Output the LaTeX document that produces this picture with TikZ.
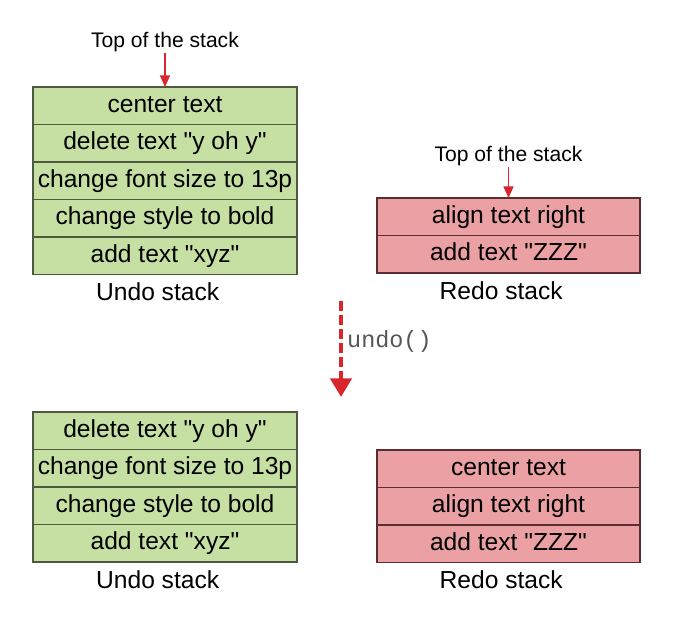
\documentclass[tikz,border=0pt]{standalone}
\usepackage{fontspec}
\setmainfont{Liberation Sans}[Ligatures=TeXOff]
\setmonofont{Liberation Mono}
\usetikzlibrary{arrows.meta,positioning}
\definecolor{undofill}{HTML}{C6E0A4}
\definecolor{undoline}{HTML}{4E5A40}
\definecolor{redofill}{HTML}{EBA0A3}
\definecolor{redoline}{HTML}{5A2E30}
\definecolor{pointerred}{HTML}{D7262C}
\definecolor{callgray}{HTML}{555555}

\begin{document}
\begin{tikzpicture}[
  x=0.03cm,
  y=-0.03cm,
  every node/.style={font=\fontsize{21}{25}\selectfont},
  undorow/.style={draw=undoline, fill=undofill, line width=1.2pt,
    minimum width=7.92cm, minimum height=1.125cm, inner sep=0pt, outer sep=0pt,
    text height=15pt, text depth=4.4pt},
  redorow/.style={draw=redoline, fill=redofill, line width=1.2pt,
    minimum width=7.89cm, minimum height=1.125cm, inner sep=0pt, outer sep=0pt,
    text height=15pt, text depth=4.4pt},
  toplabel/.style={font=\fontsize{18}{22}\selectfont, inner sep=1pt},
  caption/.style={inner sep=0pt, xshift=-0.22cm},
  pointer/.style={pointerred, line width=1.6pt, -{Triangle[length=10pt, width=8.5pt]}},
  transition/.style={pointerred, line width=3.7pt, dash pattern=on 8.5pt off 3.4pt,
    -{Triangle[length=16pt, width=18pt]}}
]
  % ---- page frame, same proportions as the reference ----
  \path (0,0) rectangle (674,627);

  % ---- before: undo stack ----
  \node[undorow] (ua1) at (165,105.8) {center text};
  \node[undorow, below=0pt of ua1] (ua2) {delete text "y oh y"};
  \node[undorow, below=0pt of ua2] (ua3) {change font size to 13p};
  \node[undorow, below=0pt of ua3] (ua4) {change style to bold};
  \node[undorow, below=0pt of ua4] (ua5) {add text "xyz"};
  \node[caption, below=0.24cm of ua5] {Undo stack};
  \node[toplabel] (uatop) at (165,42) {Top of the stack};
  \draw[pointer] (uatop.south) -- (ua1.north);

  % ---- before: redo stack ----
  \node[redorow] (ra1) at (508.5,216.8) {align text right};
  \node[redorow, below=0pt of ra1] (ra2) {add text "ZZZ"};
  \node[caption, below=0.24cm of ra2] {Redo stack};
  \node[toplabel] (ratop) at (508.5,156) {Top of the stack};
  \draw[pointer] (ratop.south) -- (ra1.north);

  % ---- the call in between ----
  \coordinate (callfrom) at (341,301);
  \coordinate (callto) at (341,397);
  \draw[transition] (callfrom) -- (callto);
  \node[anchor=west, inner sep=0pt, callgray, font=\fontsize{20}{24}\selectfont\ttfamily]
    (call) at (347,341) {undo()};

  % ---- after: undo stack ----
  \node[undorow] (ub1) at (165,430.8) {delete text "y oh y"};
  \node[undorow, below=0pt of ub1] (ub2) {change font size to 13p};
  \node[undorow, below=0pt of ub2] (ub3) {change style to bold};
  \node[undorow, below=0pt of ub3] (ub4) {add text "xyz"};
  \node[caption, below=0.24cm of ub4] {Undo stack};

  % ---- after: redo stack ----
  \node[redorow] (rb1) at (508.5,468.8) {center text};
  \node[redorow, below=0pt of rb1] (rb2) {align text right};
  \node[redorow, below=0pt of rb2] (rb3) {add text "ZZZ"};
  \node[caption, below=0.24cm of rb3] {Redo stack};
\end{tikzpicture}
\end{document}
